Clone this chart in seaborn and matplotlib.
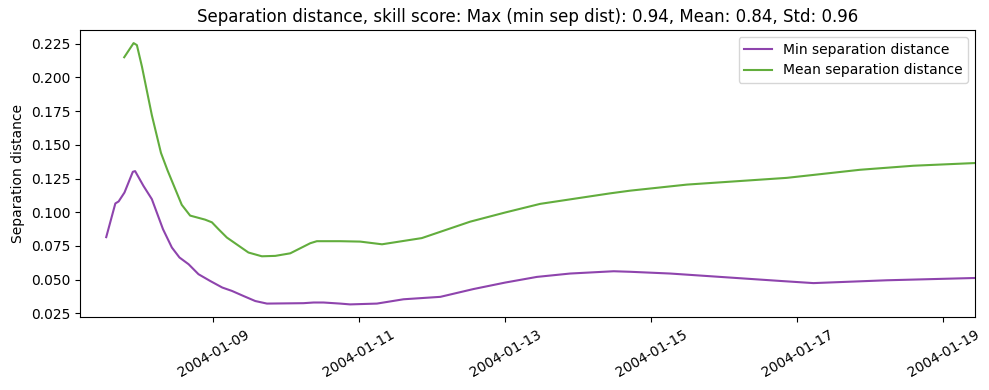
import matplotlib
matplotlib.use("Agg")
import matplotlib.pyplot as plt
import matplotlib.dates as mdates
import pandas as pd
import seaborn as sns

min_times = ["2004-01-07 12:50", "2004-01-07 15:50", "2004-01-07 16:55", "2004-01-07 18:50",
             "2004-01-07 21:35", "2004-01-07 22:20", "2004-01-08 01:05", "2004-01-08 03:50",
             "2004-01-08 07:30", "2004-01-08 10:25", "2004-01-08 12:55", "2004-01-08 15:55",
             "2004-01-08 19:10", "2004-01-08 23:00", "2004-01-09 03:00", "2004-01-09 06:10",
             "2004-01-09 10:00", "2004-01-09 13:50", "2004-01-09 17:40", "2004-01-10 05:40",
             "2004-01-10 09:00", "2004-01-10 12:15", "2004-01-10 17:45", "2004-01-10 21:00",
             "2004-01-11 05:50", "2004-01-11 14:35", "2004-01-12 02:40", "2004-01-12 13:35",
             "2004-01-13 00:00", "2004-01-13 10:25", "2004-01-13 21:20", "2004-01-14 11:40",
             "2004-01-14 17:05", "2004-01-15 06:15", "2004-01-16 18:25", "2004-01-17 05:20",
             "2004-01-18 05:30", "2004-01-19 10:30"]
min_sep = [0.0815, 0.1065, 0.1080, 0.1146, 0.1300, 0.1305, 0.1195, 0.1097,
           0.0874, 0.0738, 0.0664, 0.0614, 0.0540, 0.0490, 0.0441, 0.0416,
           0.0378, 0.0341, 0.0322, 0.0325, 0.0330, 0.0330, 0.0322, 0.0316,
           0.0322, 0.0354, 0.0372, 0.0430, 0.0478, 0.0520, 0.0545, 0.0562,
           0.0558, 0.0545, 0.0490, 0.0474, 0.0495, 0.0512]

mean_times = ["2004-01-07 18:45", "2004-01-07 21:50", "2004-01-07 22:55", "2004-01-08 00:35",
              "2004-01-08 03:50", "2004-01-08 06:50", "2004-01-08 09:00", "2004-01-08 13:40",
              "2004-01-08 16:25", "2004-01-08 21:20", "2004-01-08 23:35", "2004-01-09 01:45",
              "2004-01-09 04:30", "2004-01-09 11:35", "2004-01-09 16:00", "2004-01-09 20:25",
              "2004-01-10 01:20", "2004-01-10 07:55", "2004-01-10 10:05", "2004-01-10 17:45",
              "2004-01-11 00:20", "2004-01-11 07:30", "2004-01-11 20:35", "2004-01-12 12:30",
              "2004-01-13 00:00", "2004-01-13 11:30", "2004-01-14 10:30", "2004-01-14 17:05",
              "2004-01-15 11:45", "2004-01-16 20:35", "2004-01-17 20:40", "2004-01-18 14:15",
              "2004-01-19 10:30"]
mean_sep = [0.2150, 0.2255, 0.2240, 0.2080, 0.1720, 0.1440, 0.1310, 0.1055,
            0.0975, 0.0945, 0.0925, 0.0874, 0.0812, 0.0701, 0.0673, 0.0676,
            0.0695, 0.0770, 0.0785, 0.0785, 0.0782, 0.0762, 0.0808, 0.0930,
            0.0998, 0.1062, 0.1140, 0.1160, 0.1205, 0.1255, 0.1315, 0.1345,
            0.1365]

series_names = ["Min separation distance", "Mean separation distance"]
colors = ["#8E44AD", "#62AD3D"]

df = pd.concat([
    pd.DataFrame({"time": pd.to_datetime(min_times), "value": min_sep, "series": series_names[0]}),
    pd.DataFrame({"time": pd.to_datetime(mean_times), "value": mean_sep, "series": series_names[1]}),
], ignore_index=True)

fig, ax = plt.subplots(figsize=(9.89, 3.9), dpi=100)
sns.lineplot(data=df, x="time", y="value", hue="series", hue_order=series_names,
             palette=dict(zip(series_names, colors)), ax=ax, linewidth=1.5)

ax.set_xlim(pd.Timestamp("2004-01-07 04:15"), pd.Timestamp("2004-01-19 10:30"))
ax.xaxis.set_major_locator(mdates.DayLocator(bymonthday=range(1, 32, 2)))
ax.xaxis.set_major_formatter(mdates.DateFormatter("%Y-%m-%d"))
plt.setp(ax.get_xticklabels(), rotation=30)
ax.set_xlabel("")
ax.set_ylabel("Separation distance")
ax.set_title("Separation distance, skill score: Max (min sep dist): 0.94, Mean: 0.84, Std: 0.96")
ax.legend(loc="upper right", title=None)
fig.subplots_adjust(left=0.081, right=0.986, top=0.923, bottom=0.186)
fig.savefig("out.png", dpi=100)
